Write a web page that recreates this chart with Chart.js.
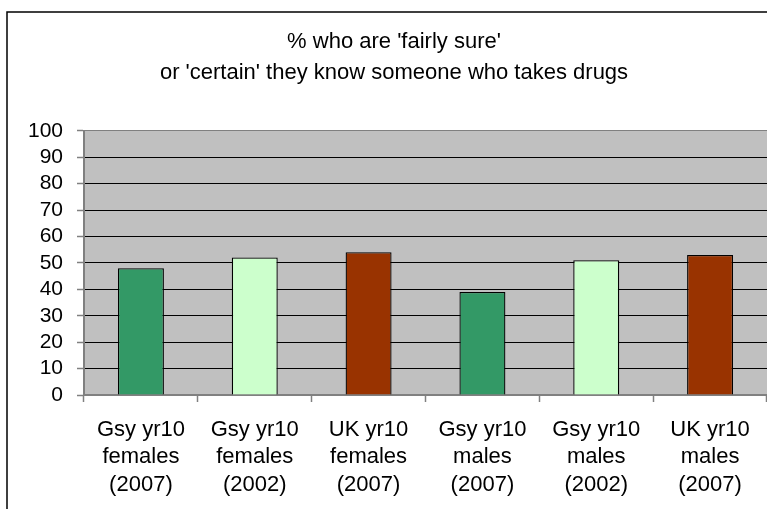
<!DOCTYPE html>
<html lang="en">
<head>
	<meta charset="UTF-8">
	<title>% who are 'fairly sure' or 'certain' they know someone who takes drugs</title>
	<style>
	*{
		margin: 0;
		padding: 0;
		box-sizing: border-box;
	}
	body{
		background: #fff;
	}
	.chartbox{
		width: 767px;
		height: 509px;
	}
	</style>
</head>
<body>
	<div class="chartbox">
		<canvas id="myChart" width="767" height="509"></canvas>
	</div>

<script src="https://cdn.jsdelivr.net/npm/chart.js"></script>

<script>
	// data
	const categories = [
		['Gsy yr10', 'females', '(2007)'],
		['Gsy yr10', 'females', '(2002)'],
		['UK yr10', 'females', '(2007)'],
		['Gsy yr10', 'males', '(2007)'],
		['Gsy yr10', 'males', '(2002)'],
		['UK yr10', 'males', '(2007)']
	];
	const percentages = [48, 52, 54, 39, 51, 53];
	const barColours = ['#339966', '#CCFFCC', '#993300', '#339966', '#CCFFCC', '#993300'];
	const titleLines = ["% who are 'fairly sure'", "or 'certain' they know someone who takes drugs"];
	const yMin = 0;
	const yMax = 100;
	const yStep = 10;

	const font = "'Liberation Sans', Arial, sans-serif";

	// grey plot area + outer frame
	const framePlugin = {
		id: 'frame',
		beforeDraw(chart){
			const ctx = chart.ctx;
			const a = chart.chartArea;
			ctx.save();
			ctx.fillStyle = '#fff';
			ctx.fillRect(0, 0, chart.width, chart.height);
			ctx.strokeStyle = '#000';
			ctx.lineWidth = 1.5;
			ctx.strokeRect(7, 12, chart.width + 20, chart.height + 20);
			ctx.fillStyle = '#C0C0C0';
			ctx.fillRect(a.left, a.top, a.right - a.left, a.bottom - a.top);
			ctx.restore();
		}
	};

	const data = {
		labels: categories,
		datasets: [{
			data: percentages,
			backgroundColor: barColours,
			borderColor: '#000',
			borderWidth: 1.3,
			barPercentage: 0.404,
			categoryPercentage: 1
		}]
	};

	const config = {
		type: 'bar',
		data,
		plugins: [framePlugin],
		options: {
			responsive: false,
			animation: false,
			layout: {
				padding: {left: 21, right: 0, top: 0, bottom: 0}
			},
			plugins: {
				legend: {display: false},
				tooltip: {enabled: false},
				title: {
					display: true,
					text: titleLines,
					color: '#000',
					font: {family: font, size: 22, weight: 'normal', lineHeight: 1.38},
					padding: {top: 27, bottom: 43}
				}
			},
			scales: {
				x: {
					offset: true,
					afterFit(scale){
						scale.height = 114;
					},
					grid: {
						offset: true,
						drawOnChartArea: false,
						drawTicks: true,
						tickLength: 7,
						tickColor: '#808080',
						tickWidth: 1.5
					},
					border: {color: '#808080', width: 2},
					ticks: {
						color: '#000',
						padding: 14,
						maxRotation: 0,
						autoSkip: false,
						font: {family: font, size: 22, lineHeight: 1.25}
					}
				},
				y: {
					min: yMin,
					max: yMax,
					afterFit(scale){
						scale.width = 63;
					},
					grid: {
						color: (c) => c.tick && c.tick.value === yMax ? '#808080' : '#000',
						lineWidth: 1,
						tickLength: 7,
						tickColor: '#808080',
						tickWidth: 1.5
					},
					border: {color: '#808080', width: 2},
					ticks: {
						stepSize: yStep,
						autoSkip: false,
						color: '#000',
						padding: 14,
						font: {family: font, size: 21}
					}
				}
			}
		}
	};

	const myChart = new Chart(document.getElementById('myChart'), config);
</script>
</body>
</html>
